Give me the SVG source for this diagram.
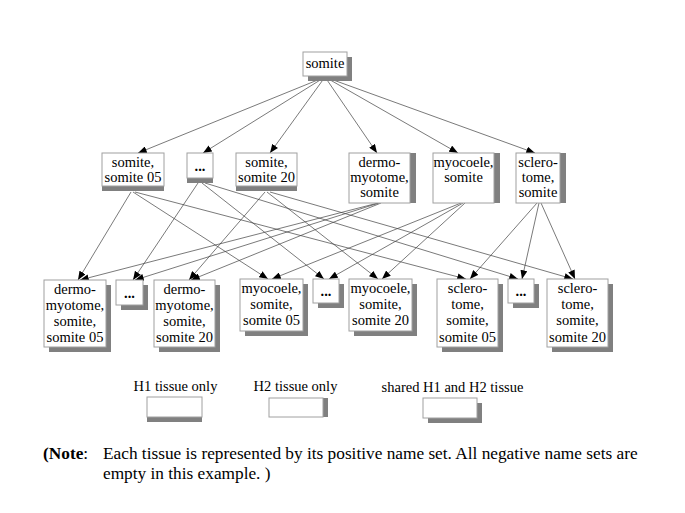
<svg xmlns="http://www.w3.org/2000/svg" width="685" height="513" viewBox="0 0 685 513">
<defs>
<marker id="arr" viewBox="0 0 10 8" refX="10" refY="4" markerWidth="9" markerHeight="7" markerUnits="userSpaceOnUse" orient="auto">
<path d="M0,0 L10,4 L0,8 Z" fill="#000"/>
</marker>
<style>
.box{fill:#fff;stroke:#a0a0a0;stroke-width:1}
.sh{fill:#808080}
.t{font-family:"Liberation Serif","Times New Roman",serif;font-size:14.5px;fill:#000;text-anchor:middle}
.d{font-weight:bold}
.lg{font-family:"Liberation Serif","Times New Roman",serif;font-size:14.5px;fill:#000;text-anchor:middle}
.note{font-family:"Liberation Serif","Times New Roman",serif;font-size:17.3px;fill:#000}
.e{stroke:#404040;stroke-width:0.7;fill:none;marker-end:url(#arr)}
</style>
</defs>
<rect width="685" height="513" fill="#fff"/>

<g id="connectors">
<line class="e" x1="325" y1="77" x2="138" y2="153"/>
<line class="e" x1="325" y1="77" x2="203" y2="153"/>
<line class="e" x1="325" y1="77" x2="270" y2="153"/>
<line class="e" x1="325" y1="77" x2="377" y2="153"/>
<line class="e" x1="325" y1="77" x2="458" y2="153"/>
<line class="e" x1="325" y1="77" x2="535" y2="153"/>

<line class="e" x1="131" y1="192" x2="78" y2="280"/>
<line class="e" x1="133" y1="192" x2="268" y2="279"/>
<line class="e" x1="135" y1="192" x2="466" y2="279"/>

<line class="e" x1="198" y1="183" x2="133" y2="280"/>
<line class="e" x1="202" y1="183" x2="324" y2="279"/>
<line class="e" x1="205" y1="183" x2="518" y2="279"/>

<line class="e" x1="265" y1="192" x2="189" y2="280"/>
<line class="e" x1="267" y1="192" x2="378" y2="279"/>
<line class="e" x1="270" y1="192" x2="573" y2="279"/>

<line class="e" x1="378" y1="203" x2="80" y2="280"/>
<line class="e" x1="379" y1="203" x2="135" y2="280"/>
<line class="e" x1="381" y1="203" x2="191" y2="280"/>

<line class="e" x1="461" y1="203" x2="272" y2="279"/>
<line class="e" x1="463" y1="203" x2="329" y2="279"/>
<line class="e" x1="465" y1="203" x2="382" y2="279"/>

<line class="e" x1="537" y1="203" x2="470" y2="279"/>
<line class="e" x1="539" y1="203" x2="522" y2="279"/>
<line class="e" x1="541" y1="203" x2="575" y2="279"/>
</g>

<g id="n-somite">
<rect class="sh" x="308" y="57" width="44" height="24"/>
<rect class="box" x="303" y="52" width="44" height="24"/>
<text class="t" x="325" y="68">somite</text>
</g>

<g id="n-somite05">
<rect class="sh" x="102" y="158" width="62" height="33"/>
<rect class="box" x="102" y="153" width="62" height="33"/>
<text class="t" x="133" y="167">somite,</text>
<text class="t" x="133" y="182">somite 05</text>
</g>
<g id="n-dots-mid">
<rect class="sh" x="187" y="158" width="26" height="25"/>
<rect class="box" x="187" y="153" width="26" height="25"/>
<text class="t d" x="200" y="171">...</text>
</g>
<g id="n-somite20">
<rect class="sh" x="236" y="158" width="61" height="33"/>
<rect class="box" x="236" y="153" width="61" height="33"/>
<text class="t" x="266.5" y="167">somite,</text>
<text class="t" x="266.5" y="182">somite 20</text>
</g>
<g id="n-dermo">
<rect class="sh" x="355" y="153" width="61" height="50"/>
<rect class="box" x="349" y="153" width="61" height="50"/>
<text class="t" x="379.5" y="167">dermo-</text>
<text class="t" x="379.5" y="182">myotome,</text>
<text class="t" x="379.5" y="197">somite</text>
</g>
<g id="n-myocoele">
<rect class="sh" x="439" y="153" width="61" height="50"/>
<rect class="box" x="433" y="153" width="61" height="50"/>
<text class="t" x="463.5" y="167">myocoele,</text>
<text class="t" x="463.5" y="182">somite</text>
</g>
<g id="n-sclero">
<rect class="sh" x="522" y="153" width="44" height="50"/>
<rect class="box" x="516" y="153" width="44" height="50"/>
<text class="t" x="538" y="167">sclero-</text>
<text class="t" x="538" y="182">tome,</text>
<text class="t" x="538" y="197">somite</text>
</g>

<g id="n-dermo05">
<rect class="sh" x="49" y="285" width="62" height="67"/>
<rect class="box" x="44" y="280" width="62" height="67"/>
<text class="t" x="75" y="294">dermo-</text>
<text class="t" x="75" y="310">myotome,</text>
<text class="t" x="75" y="326">somite,</text>
<text class="t" x="75" y="342">somite 05</text>
</g>
<g id="n-dots1">
<rect class="sh" x="121" y="285" width="27" height="25"/>
<rect class="box" x="116" y="280" width="27" height="25"/>
<text class="t d" x="129.5" y="298">...</text>
</g>
<g id="n-dermo20">
<rect class="sh" x="159" y="285" width="61" height="67"/>
<rect class="box" x="154" y="280" width="61" height="67"/>
<text class="t" x="184.5" y="294">dermo-</text>
<text class="t" x="184.5" y="310">myotome,</text>
<text class="t" x="184.5" y="326">somite,</text>
<text class="t" x="184.5" y="342">somite 20</text>
</g>
<g id="n-myocoele05">
<rect class="sh" x="245" y="284" width="63" height="52"/>
<rect class="box" x="240" y="279" width="63" height="52"/>
<text class="t" x="271.5" y="293">myocoele,</text>
<text class="t" x="271.5" y="309">somite,</text>
<text class="t" x="271.5" y="325">somite 05</text>
</g>
<g id="n-dots2">
<rect class="sh" x="318" y="284" width="26" height="24"/>
<rect class="box" x="313" y="279" width="26" height="24"/>
<text class="t d" x="326" y="296">...</text>
</g>
<g id="n-myocoele20">
<rect class="sh" x="354" y="284" width="63" height="52"/>
<rect class="box" x="349" y="279" width="63" height="52"/>
<text class="t" x="380.5" y="293">myocoele,</text>
<text class="t" x="380.5" y="309">somite,</text>
<text class="t" x="380.5" y="325">somite 20</text>
</g>
<g id="n-sclero05">
<rect class="sh" x="442" y="284" width="61" height="68"/>
<rect class="box" x="437" y="279" width="61" height="68"/>
<text class="t" x="467.5" y="293">sclero-</text>
<text class="t" x="467.5" y="309">tome,</text>
<text class="t" x="467.5" y="325">somite,</text>
<text class="t" x="467.5" y="342">somite 05</text>
</g>
<g id="n-dots3">
<rect class="sh" x="513" y="284" width="26" height="24"/>
<rect class="box" x="508" y="279" width="26" height="24"/>
<text class="t d" x="521" y="296">...</text>
</g>
<g id="n-sclero20">
<rect class="sh" x="552" y="284" width="61" height="68"/>
<rect class="box" x="547" y="279" width="61" height="68"/>
<text class="t" x="577.5" y="293">sclero-</text>
<text class="t" x="577.5" y="309">tome,</text>
<text class="t" x="577.5" y="325">somite,</text>
<text class="t" x="577.5" y="342">somite 20</text>
</g>

<g id="legend">
<text class="lg" x="175.5" y="391">H1 tissue only</text>
<rect class="sh" x="147" y="402" width="55" height="20"/>
<rect class="box" x="147" y="397" width="55" height="20"/>
<text class="lg" x="295.5" y="391">H2 tissue only</text>
<rect class="sh" x="274" y="398" width="54" height="19"/>
<rect class="box" x="269" y="398" width="54" height="19"/>
<text class="lg" x="452.5" y="392">shared H1 and H2 tissue</text>
<rect class="sh" x="428" y="403" width="54" height="20"/>
<rect class="box" x="423" y="398" width="54" height="20"/>
</g>

<g id="note">
<text class="note" x="43" y="459"><tspan font-weight="bold">(Note</tspan>:</text>
<text class="note" x="103" y="459">Each tissue is represented by its positive name set. All negative name sets are</text>
<text class="note" x="103" y="479">empty in this example. )</text>
</g>
</svg>
